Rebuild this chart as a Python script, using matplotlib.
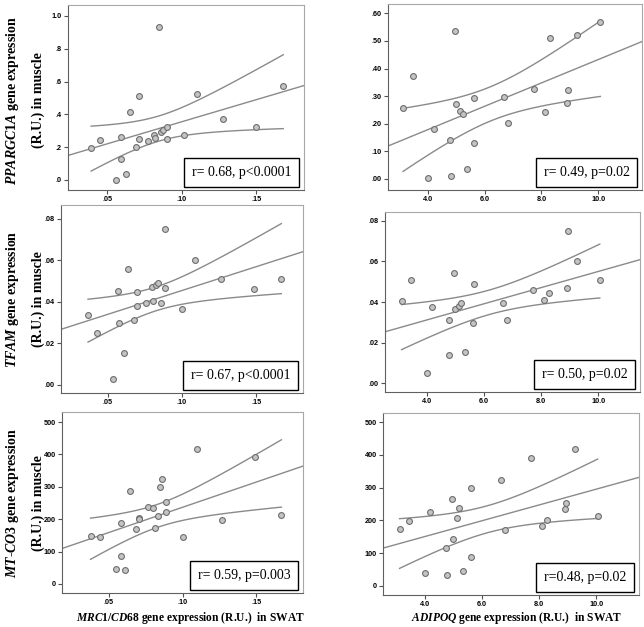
import matplotlib
matplotlib.use('Agg')
import matplotlib.pyplot as plt
import numpy as np

plt.rcParams['mathtext.fontset'] = 'custom'
plt.rcParams['mathtext.it'] = 'Liberation Serif:italic:bold'
plt.rcParams['mathtext.rm'] = 'Liberation Serif:bold'

# MRC1/CD68 (left column) vs muscle genes
ppargc1a_x = [0.0393, 0.0451, 0.0596, 0.0596, 0.0560, 0.0625, 0.0656, 0.0694, 0.0717, 0.0714, 0.0775, 0.0815,
              0.0821, 0.0846, 0.0859, 0.0873, 0.0902, 0.0902, 0.1013, 0.1105, 0.1279, 0.1498, 0.1681]
ppargc1a_y = [0.196, 0.243, 0.265, 0.130, 0.002, 0.036, 0.413, 0.202, 0.512, 0.247, 0.235, 0.277,
              0.259, 0.935, 0.294, 0.302, 0.322, 0.247, 0.275, 0.522, 0.374, 0.326, 0.573]

tfam_x = [0.0367, 0.0430, 0.0572, 0.0579, 0.0606, 0.0538, 0.0636, 0.0676, 0.0699, 0.0697, 0.0757, 0.0796,
          0.0807, 0.0823, 0.0839, 0.0857, 0.0884, 0.0886, 0.0997, 0.1089, 0.1265, 0.1486, 0.1669]
tfam_y = [0.0337, 0.0251, 0.0451, 0.0297, 0.0156, 0.0029, 0.0557, 0.0312, 0.0448, 0.0379, 0.0394, 0.0471,
          0.0406, 0.0482, 0.0493, 0.0397, 0.0750, 0.0469, 0.0368, 0.0601, 0.0512, 0.0463, 0.0512]

mtco3_x = [0.0378, 0.0439, 0.0550, 0.0613, 0.0586, 0.0584, 0.0644, 0.0683, 0.0705, 0.0708, 0.0766, 0.0802,
           0.0811, 0.0834, 0.0845, 0.0861, 0.0890, 0.0890, 0.1001, 0.1096, 0.1270, 0.1489, 0.1669]
mtco3_y = [148, 145, 45, 44, 87, 189, 286, 171, 205, 199, 238, 234,
           172, 210, 300, 324, 252, 221, 144, 418, 198, 393, 214]

# ADIPOQ (right column) vs muscle genes
adipoq_ppargc1a_x = [3.12, 3.47, 4.20, 4.00, 4.77, 4.80, 4.96, 4.99, 5.13, 5.22, 5.36,
                     5.63, 5.64, 6.69, 6.83, 7.73, 8.12, 8.30, 8.94, 8.91, 9.27, 10.08]
adipoq_ppargc1a_y = [0.257, 0.373, 0.180, 0.002, 0.140, 0.010, 0.536, 0.273, 0.246, 0.234, 0.035,
                     0.129, 0.292, 0.298, 0.203, 0.325, 0.242, 0.511, 0.321, 0.275, 0.520, 0.569]

adipoq_tfam_x = [3.11, 3.45, 4.19, 3.99, 4.76, 4.78, 4.95, 4.98, 5.12, 5.20, 5.35,
                 5.61, 5.64, 6.68, 6.82, 7.72, 8.11, 8.29, 8.91, 8.93, 9.25, 10.06]
adipoq_tfam_y = [0.0404, 0.0511, 0.0376, 0.0051, 0.0309, 0.0138, 0.0544, 0.0366, 0.0378, 0.0393, 0.0153,
                 0.0296, 0.0489, 0.0396, 0.0310, 0.0460, 0.0412, 0.0445, 0.0470, 0.0749, 0.0600, 0.0511]

adipoq_mtco3_x = [3.11, 3.44, 4.19, 3.99, 4.74, 4.78, 4.95, 4.98, 5.12, 5.19, 5.34,
                  5.60, 5.63, 6.66, 6.81, 7.72, 8.11, 8.28, 8.90, 8.94, 9.24, 10.05]
adipoq_mtco3_y = [173, 199, 227, 40, 117, 32, 265, 143, 207, 239, 45,
                  88, 300, 324, 172, 392, 182, 201, 235, 253, 418, 214]

stats_text = ['r= 0.68, p<0.0001', 'r= 0.49, p=0.02',
              'r= 0.67, p<0.0001', 'r= 0.50, p=0.02',
              'r= 0.59, p=0.003', 'r=0.48, p=0.02']

left_xticks = [0.05, 0.10, 0.15]
left_xticklabels = ['.05', '.10', '.15']
right_xticks = [4, 6, 8, 10]
right_xticklabels = ['4.0', '6.0', '8.0', '10.0']

ppargc1a_ticks = [0, 0.2, 0.4, 0.6, 0.8, 1.0]
ppargc1a_labels = ['.0', '.2', '.4', '.6', '.8', '1.0']
ppargc1a_ticks_r = [0, 0.1, 0.2, 0.3, 0.4, 0.5, 0.6]
ppargc1a_labels_r = ['.00', '.10', '.20', '.30', '.40', '.50', '.60']
tfam_ticks = [0, 0.02, 0.04, 0.06, 0.08]
tfam_labels = ['.00', '.02', '.04', '.06', '.08']
mtco3_ticks = [0, 100, 200, 300, 400, 500]
mtco3_labels = ['0', '100', '200', '300', '400', '500']

W, H = 644, 627
fig = plt.figure(figsize=(W / 100, H / 100), dpi=100)


def px_axes(left, right, top, bottom):
    return fig.add_axes([left / W, 1 - bottom / H, (right - left) / W, (bottom - top) / H])


def panel(ax, x, y, t_val, xlim, ylim, xt, xtl, yt, ytl, txt):
    x = np.array(x)
    y = np.array(y)
    n = len(x)
    b, a = np.polyfit(x, y, 1)
    ax.set_xlim(xlim)
    ax.set_ylim(ylim)
    # fit line over the whole axis
    xx = np.linspace(xlim[0], xlim[1], 100)
    ax.plot(xx, a + b * xx, color='#8a8a8a', lw=1.0, zorder=2)
    # 95% CI of the mean
    resid = y - (a + b * x)
    s = np.sqrt(np.sum(resid ** 2) / (n - 2))
    xc = np.linspace(x.min(), x.max(), 100)
    se = s * np.sqrt(1 / n + (xc - x.mean()) ** 2 / np.sum((x - x.mean()) ** 2))
    ax.plot(xc, a + b * xc + t_val * se, color='#8a8a8a', lw=1.0, zorder=2)
    ax.plot(xc, a + b * xc - t_val * se, color='#8a8a8a', lw=1.0, zorder=2)
    ax.plot(x, y, 'o', ms=4.2, mfc='#c4c4c4', mec='#6e6e6e', mew=0.8, zorder=3)

    ax.set_xticks(xt)
    ax.set_xticklabels(xtl)
    ax.set_yticks(yt)
    ax.set_yticklabels(ytl)
    ax.tick_params(length=3, width=0.8, color='#505050', labelsize=5.2, pad=1.5)
    for lab in ax.get_xticklabels() + ax.get_yticklabels():
        lab.set_fontfamily('Liberation Sans')
        lab.set_fontweight('bold')
    for side in ['left', 'bottom']:
        ax.spines[side].set_color('#606060')
    for side in ['top', 'right']:
        ax.spines[side].set_color('#a8a8a8')
    ax.annotate(txt, xy=(1, 0), xycoords='axes fraction', xytext=(-9, 8),
                textcoords='offset points', ha='right', va='bottom',
                family='Liberation Serif', fontsize=10,
                bbox=dict(boxstyle='square,pad=0.55', fc='white', ec='black', lw=1.0))


ax1 = px_axes(68, 304, 5, 190)
panel(ax1, ppargc1a_x, ppargc1a_y, 2.080, (0.0238, 0.182), (-0.061, 1.067),
      left_xticks, left_xticklabels, ppargc1a_ticks, ppargc1a_labels, stats_text[0])
ax2 = px_axes(388, 642, 4, 190)
panel(ax2, adipoq_ppargc1a_x, adipoq_ppargc1a_y, 2.086, (2.59, 11.55), (-0.04, 0.634),
      right_xticks, right_xticklabels, ppargc1a_ticks_r, ppargc1a_labels_r, stats_text[1])
ax3 = px_axes(61, 303, 205, 393)
panel(ax3, tfam_x, tfam_y, 2.080, (0.0185, 0.1815), (-0.0039, 0.0867),
      left_xticks, left_xticklabels, tfam_ticks, tfam_labels, stats_text[2])
ax4 = px_axes(385, 640, 212, 392)
panel(ax4, adipoq_tfam_x, adipoq_tfam_y, 2.086, (2.53, 11.47), (-0.0044, 0.0844),
      right_xticks, right_xticklabels, tfam_ticks, tfam_labels, stats_text[3])
ax5 = px_axes(62, 303, 412, 593)
panel(ax5, mtco3_x, mtco3_y, 2.080, (0.0185, 0.1815), (-28, 531),
      left_xticks, left_xticklabels, mtco3_ticks, mtco3_labels, stats_text[4])
ax6 = px_axes(383, 639, 413, 595)
panel(ax6, adipoq_mtco3_x, adipoq_mtco3_y, 2.086, (2.53, 11.5), (-28, 528),
      right_xticks, right_xticklabels, mtco3_ticks, mtco3_labels, stats_text[5])

# y labels (two lines each, left of the left column)
ylabels = [r'$PPARGC1A$ gene expression', r'$TFAM$ gene expression', r'$MT$-$CO3$ gene expression']
centers = [100, 299, 503]
for lab, cy in zip(ylabels, centers):
    fig.text(13 / W, 1 - cy / H, lab, rotation=90, ha='center', va='center',
             family='Liberation Serif', fontweight='bold', fontsize=10)
    fig.text(38 / W, 1 - cy / H, '(R.U.) in muscle', rotation=90, ha='center', va='center',
             family='Liberation Serif', fontweight='bold', fontsize=10)

fig.text(190 / W, 1 - 618 / H, r'$MRC1/CD68$ gene expression (R.U.)  in SWAT', ha='center', va='center',
         family='Liberation Serif', fontweight='bold', fontsize=8.3)
fig.text(517 / W, 1 - 618 / H, r'$ADIPOQ$ gene expression (R.U.)  in SWAT', ha='center', va='center',
         family='Liberation Serif', fontweight='bold', fontsize=8.3)

fig.savefig('out.png', dpi=100)
